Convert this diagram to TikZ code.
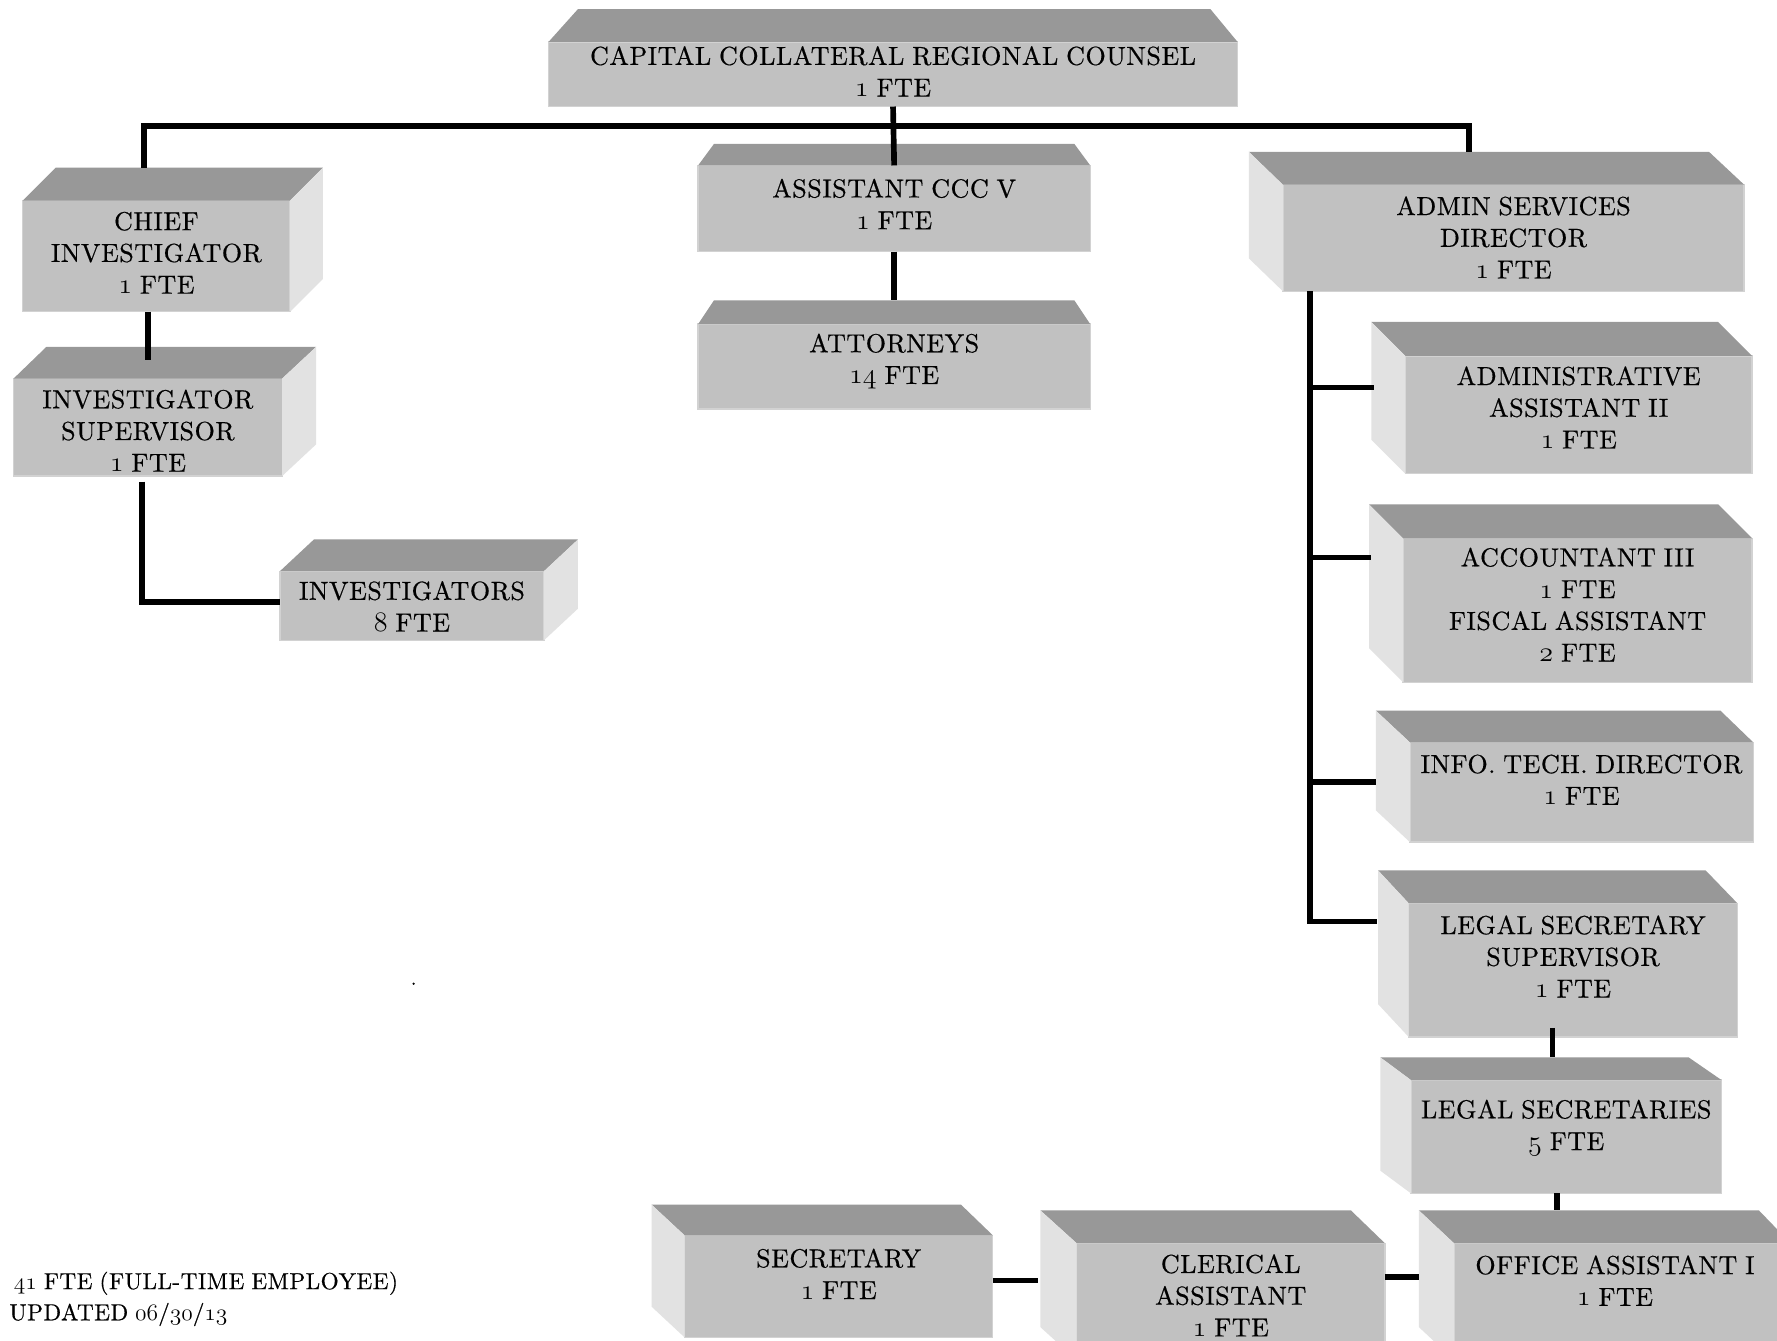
\documentclass[tikz,border=0pt]{standalone}
\usepackage{fontspec}
\setmainfont{lmroman10-regular}[Extension=.otf, LetterSpace=2, FakeBold=0.5, WordSpace=0.85]
\usetikzlibrary{calc}
\definecolor{topgray}{HTML}{989898}
\definecolor{frontgray}{HTML}{C1C1C1}
\definecolor{frontedge}{HTML}{D2D2D2}
\definecolor{sidegray}{HTML}{E2E2E2}
% old-style figures taken from the math italic font
\newcommand\osn[1]{{\usefont{OML}{cmm}{m}{it}#1}}
\newcommand\boxfont{\fontsize{23}{28}\selectfont}
\newcommand\notefont{\fontsize{20.5}{27}\selectfont}
% front face of a box: name, x1, y1, x2, y2 (y grows downward)
\newcommand\frontbox[5]{%
  \node[front, minimum width={#4-#2}, minimum height={#5-#3}] (#1) at ({(#2+#4)/2},{(#3+#5)/2}) {};}
% top face: name, shift of left rear corner, shift of right rear corner, depth
\newcommand\topface[4]{%
  \fill[topface] (#1.north west) -- ++(#2,-#4) -- ($(#1.north east)+(#3,-#4)$) -- (#1.north east) -- cycle;
  \coordinate (#1-back) at ($(#1.north)+(0,-#4)$);}
% visible side faces: name, shift, depth
\newcommand\rightside[3]{%
  \fill[sideface] (#1.north east) -- ++(#2,-#3) -- ($(#1.south east)+(#2,-#3)$) -- (#1.south east) -- cycle;}
\newcommand\leftside[3]{%
  \fill[sideface] (#1.north west) -- ++(#2,-#3) -- ($(#1.south west)+(#2,-#3)$) -- (#1.south west) -- cycle;}
\begin{document}
\begin{tikzpicture}[x=1pt,y=-1pt,
  front/.style={draw=frontedge, line width=1.2pt, fill=frontgray, inner sep=0pt, outer sep=0pt},
  topface/.style={fill=topgray},
  sideface/.style={fill=sidegray},
  conn/.style={line width=5pt, line cap=butt, line join=miter},
  lbl/.style={align=center, font=\boxfont, inner sep=0pt, text=black},
  note/.style={font=\notefont, inner sep=0pt, text=black},
]
\fill[white] (0,0) rectangle (1568,1183);
\useasboundingbox (0,0) rectangle (1568,1183);
\clip (0,0) rectangle (1568,1183);

% ---- top of the organisation
\frontbox{ccrc}{484}{37}{1092}{94}
\topface{ccrc}{26}{-24}{29}
\node[lbl] (ccrc-t) at (ccrc.center |- 0,63) {CAPITAL COLLATERAL REGIONAL COUNSEL\\\osn{1} FTE};

% ---- investigations branch
\frontbox{chief}{20}{177}{256}{275}
\topface{chief}{29}{29}{29}
\rightside{chief}{29}{29}
\node[lbl] (chief-t) at (chief.center |- 0,223) {CHIEF\\INVESTIGATOR\\\osn{1} FTE};

\frontbox{invsup}{12}{334}{249}{420}
\topface{invsup}{29}{30}{28}
\rightside{invsup}{30}{28}
\node[lbl] (invsup-t) at (invsup.center |- 0,380) {INVESTIGATOR\\SUPERVISOR\\\osn{1} FTE};

\frontbox{invs}{247}{504}{480}{565}
\topface{invs}{30}{30}{28}
\rightside{invs}{30}{28}
\node[lbl] (invs-t) at (invs.center |- 0,535) {INVESTIGATORS\\\osn{8} FTE};

% ---- legal branch
\frontbox{asst}{616}{146}{962}{222}
\topface{asst}{14}{-14}{19}
\node[lbl] (asst-t) at (asst.center |- 0,180) {ASSISTANT CCC V\\\osn{1} FTE};

\frontbox{atty}{616}{286}{962}{361}
\topface{atty}{14}{-14}{21}
\node[lbl] (atty-t) at (atty.center |- 0,319) {ATTORNEYS\\\osn{14} FTE};

% ---- administrative branch
\frontbox{admin}{1132}{163}{1539}{257}
\topface{admin}{-30}{-31}{29}
\leftside{admin}{-30}{29}
\node[lbl] (admin-t) at (admin.center |- 0,209.5) {ADMIN SERVICES\\DIRECTOR\\\osn{1} FTE};

\frontbox{adasst}{1240}{314}{1546}{418}
\topface{adasst}{-30}{-30}{30}
\leftside{adasst}{-30}{30}
\node[lbl] (adasst-t) at (adasst.center |- 0,359.5) {ADMINISTRATIVE\\ASSISTANT II\\\osn{1} FTE};

\frontbox{acct}{1238}{475}{1546}{602}
\topface{acct}{-30}{-30}{30}
\leftside{acct}{-30}{30}
\node[lbl] (acct-t) at (acct.center |- 0,533.5) {ACCOUNTANT III\\\osn{1} FTE\\FISCAL ASSISTANT\\\osn{2} FTE};

\frontbox{itdir}{1244}{655}{1547}{743}
\topface{itdir}{-30}{-29}{28}
\leftside{itdir}{-30}{28}
\node[lbl] (itdir-t) at (itdir.center |- 0,688) {INFO. TECH. DIRECTOR\\\osn{1} FTE};

\frontbox{lss}{1243}{797}{1533}{915}
\topface{lss}{-27}{-28}{29}
\leftside{lss}{-27}{29}
\node[lbl] (lss-t) at (lss.center |- 0,844) {LEGAL SECRETARY\\SUPERVISOR\\\osn{1} FTE};

\frontbox{lsec}{1245}{953}{1519}{1053}
\topface{lsec}{-27}{-29}{20}
\leftside{lsec}{-27}{20}
\node[lbl] (lsec-t) at (lsec.center |- 0,995) {LEGAL SECRETARIES\\\osn{5} FTE};

\frontbox{sec}{604}{1090}{876}{1180}
\topface{sec}{-29}{-28}{27}
\leftside{sec}{-29}{27}
\node[lbl] (sec-t) at (sec.center |- 0,1124) {SECRETARY\\\osn{1} FTE};

\frontbox{cler}{950}{1097}{1222}{1200}
\topface{cler}{-32}{-30}{29}
\leftside{cler}{-32}{29}
\node[lbl] (cler-t) at (cler.center |- 0,1143) {CLERICAL\\ASSISTANT\\\osn{1} FTE};

\frontbox{office}{1283}{1097}{1580}{1200}
\topface{office}{-31}{-28}{29}
\leftside{office}{-31}{29}
\node[lbl] (office-t) at (1425,1130) {OFFICE ASSISTANT I\\\osn{1} FTE};

% ---- connectors
\coordinate (busL) at (127,111);
\coordinate (busR) at (1296,111);
\draw[conn] (busL |- chief-back) -- (busL) -- (busR) -- (busR |- admin-back);
\draw[conn] (ccrc.south) -- (asst.north);
\draw[conn] (asst.south) -- (atty-back);

\draw[conn] (invsup.north |- chief.south) -- ($(invsup.north)+(0,-16)$);
\coordinate (invs-in) at (247,531);
\draw[conn] ([xshift=-5pt,yshift=-5pt]invsup.south) -- ([xshift=-5pt]invsup.south |- invs-in) -- (invs-in);

\coordinate (trunk) at ([xshift=24pt]admin.south west);
\coordinate (adasst-in) at (1212,342);
\coordinate (acct-in) at (1210,492);
\coordinate (itdir-in) at (1214,690);
\coordinate (lss-in) at (1215,813);
\draw[conn] (trunk) -- (trunk |- lss-in) -- (lss-in);
\draw[conn] (trunk |- adasst-in) -- (adasst-in);
\draw[conn] (trunk |- acct-in) -- (acct-in);
\draw[conn] (trunk |- itdir-in) -- (itdir-in);

\coordinate (lss-out) at (1370,907);
\draw[conn] (lss-out) -- (lss-out |- lsec-back);
\coordinate (lsec-out) at (1374,1053);
\draw[conn] (lsec-out) -- (lsec-out |- office-back);

\coordinate (cler-in) at (916,1130);
\draw[conn] (sec.east |- cler-in) -- (cler-in);
\coordinate (office-in) at (1252,1127);
\draw[conn] (cler.east |- office-in) -- (office-in);

\fill (365,868) circle (1.1);

% ---- footnote
\node[note, anchor=base west] (total) at (12,1137.5) {\osn{41} FTE (FULL-TIME EMPLOYEE)};
\node[note, anchor=base west] (updated) at (8,1165) {UPDATED \osn{06}/\osn{30}/\osn{13}};
\end{tikzpicture}
\end{document}
